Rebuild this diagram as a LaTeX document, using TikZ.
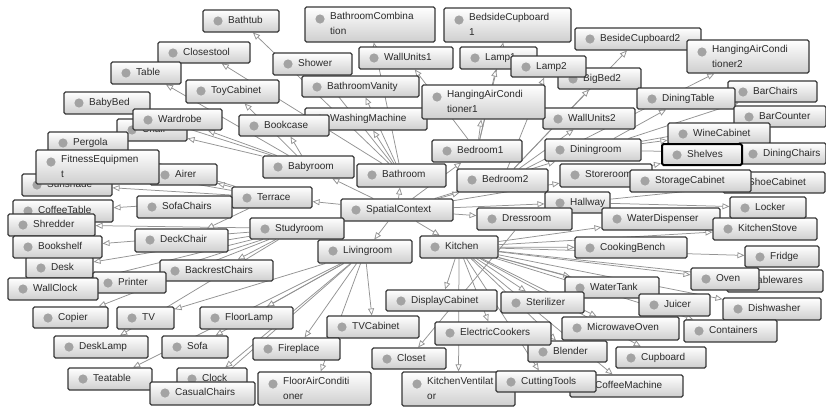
\documentclass[tikz,border=0pt]{standalone}
\usepackage{fontspec}
\setmainfont{Liberation Sans}
\usetikzlibrary{arrows.meta}
\definecolor{bord}{HTML}{383838}
\definecolor{dotc}{HTML}{A3A3A3}
\definecolor{txt}{HTML}{2A2A2A}
\definecolor{edgec}{HTML}{939393}
\pgfdeclarelayer{bg}
\pgfsetlayers{bg,main}
\tikzset{
 objbox/.style={draw=bord, line width=1.1pt, rounded corners=1.5pt, top color=white, bottom color=black!19, inner sep=0pt},
 selbox/.style={draw=black, line width=2pt},
 lbl/.style={anchor=west, inner sep=0pt, text=txt, font=\fontsize{10}{15}\selectfont, text height=7pt, text depth=2pt},
 lbltwo/.style={anchor=north west, inner sep=0pt, text=txt, align=left, font=\fontsize{10}{15}\selectfont},
 conn/.style={draw=edgec, line width=0.75pt, -{Triangle[open, length=7pt, width=6pt, fill=white]}},
}
\newcommand\obj[7][]{%
  \node[objbox,#1,minimum width={#5-#3},minimum height={#6-#4}] (#2) at ({(#3+#5)/2},{(#4+#6)/2}) {};
  \fill[dotc] ({#3+15},{#4+11}) circle[radius=4.6pt];
  \node[lbl] at ({#3+25},{#4+11}) {#7};
}
\newcommand\objII[7][]{%
  \node[objbox,#1,minimum width={#5-#3},minimum height={#6-#4}] (#2) at ({(#3+#5)/2},{(#4+#6)/2}) {};
  \fill[dotc] ({#3+15},{#4+12}) circle[radius=4.6pt];
  \node[lbltwo] at ({#3+25},{#4+5}) {#7};
}
\begin{document}
\begin{tikzpicture}[x=1pt,y=-1pt]
\useasboundingbox (0,0) rectangle (826,407);
\obj{Bathtub}{203}{10}{279}{32}{Bathtub}
\objII{BathroomCombination}{305}{7}{435}{42}{BathroomCombina\\tion}
\objII{BedsideCupboard1}{444}{8}{571}{42}{BedsideCupboard\\1}
\obj{Closestool}{158}{42}{250}{63}{Closestool}
\obj{Table}{111}{62}{181}{84}{Table}
\obj{ToyCabinet}{186}{80}{279}{103}{ToyCabinet}
\obj{Shower}{273}{53}{352}{75}{Shower}
\obj{WallUnits1}{359}{47}{453}{69}{WallUnits1}
\obj{BathroomVanity}{302}{76}{419}{97}{BathroomVanity}
\obj{BesideCupboard2}{575}{28}{701}{50}{BesideCupboard2}
\objII{HangingAirConditioner2}{687}{40}{809}{73}{HangingAirCondi\\tioner2}
\obj{BigBed2}{558}{68}{641}{89}{BigBed2}
\obj{Lamp1}{460}{47}{537}{69}{Lamp1}
\obj{Lamp2}{511}{56}{586}{77}{Lamp2}
\obj{BarChairs}{728}{81}{817}{102}{BarChairs}
\obj{DiningTable}{637}{88}{735}{109}{DiningTable}
\obj{BarCounter}{734}{106}{826}{127}{BarCounter}
\obj{WallUnits2}{543}{108}{635}{129}{WallUnits2}
\obj{WashingMachine}{305}{108}{427}{130}{WashingMachine}
\objII{HangingAirConditioner1}{422}{85}{545}{119}{HangingAirCondi\\tioner1}
\obj{BabyBed}{64}{92}{150}{114}{BabyBed}
\obj{Chair}{117}{119}{187}{141}{Chair}
\obj{Wardrobe}{133}{109}{222}{130}{Wardrobe}
\obj{Bookcase}{239}{115}{329}{136}{Bookcase}
\obj{Pergola}{48}{132}{128}{152}{Pergola}
\obj{Sunshade}{22}{174}{112}{196}{Sunshade}
\obj{Airer}{150}{164}{217}{185}{Airer}
\objII{FitnessEquipment}{36}{150}{159}{184}{FitnessEquipmen\\t}
\obj{Babyroom}{263}{156}{354}{178}{Babyroom}
\obj{Bathroom}{357}{164}{446}{187}{Bathroom}
\obj{Bedroom1}{432}{140}{522}{162}{Bedroom1}
\obj{Bedroom2}{457}{169}{548}{192}{Bedroom2}
\obj{Diningroom}{545}{139}{641}{161}{Diningroom}
\obj{WineCabinet}{668}{123}{770}{144}{WineCabinet}
\obj{DiningChairs}{738}{143}{826}{164}{DiningChairs}
\obj[selbox]{Shelves}{662}{144}{742}{165}{Shelves}
\obj{Storeroom}{560}{164}{652}{187}{Storeroom}
\obj{ShoeCabinet}{723}{172}{825}{193}{ShoeCabinet}
\obj{StorageCabinet}{630}{170}{751}{192}{StorageCabinet}
\obj{Terrace}{232}{187}{312}{208}{Terrace}
\obj{SofaChairs}{137}{196}{232}{218}{SofaChairs}
\obj{CoffeeTable}{13}{200}{113}{222}{CoffeeTable}
\obj{Shredder}{8}{214}{95}{236}{Shredder}
\obj{Desk}{26}{257}{93}{278}{Desk}
\obj{Bookshelf}{13}{236}{102}{258}{Bookshelf}
\obj{SpatialContext}{341}{199}{453}{221}{SpatialContext}
\obj{Hallway}{545}{192}{610}{213}{Hallway}
\obj{Dressroom}{477}{208}{572}{230}{Dressroom}
\obj{WaterDispenser}{602}{208}{720}{230}{WaterDispenser}
\obj{KitchenStove}{713}{218}{817}{240}{KitchenStove}
\obj{Locker}{730}{197}{806}{218}{Locker}
\obj{DeckChair}{135}{229}{228}{252}{DeckChair}
\obj{Studyroom}{250}{218}{344}{239}{Studyroom}
\obj{Livingroom}{318}{240}{412}{263}{Livingroom}
\obj{Kitchen}{420}{236}{498}{258}{Kitchen}
\obj{CookingBench}{575}{237}{687}{258}{CookingBench}
\obj{Fridge}{745}{246}{819}{267}{Fridge}
\obj{BackrestChairs}{160}{260}{273}{281}{BackrestChairs}
\obj{Printer}{93}{272}{166}{293}{Printer}
\obj{WallClock}{8}{278}{98}{300}{WallClock}
\obj{Tablewares}{727}{270}{823}{292}{Tablewares}
\obj{Oven}{691}{268}{759}{290}{Oven}
\obj{WaterTank}{565}{277}{659}{298}{WaterTank}
\obj{Juicer}{639}{294}{710}{316}{Juicer}
\obj{Sterilizer}{501}{292}{584}{313}{Sterilizer}
\obj{DisplayCabinet}{386}{290}{497}{311}{DisplayCabinet}
\obj{Dishwasher}{723}{298}{821}{320}{Dishwasher}
\obj{Copier}{33}{307}{108}{328}{Copier}
\obj{TV}{117}{307}{174}{329}{TV}
\obj{FloorLamp}{200}{307}{293}{329}{FloorLamp}
\obj{TVCabinet}{327}{316}{419}{338}{TVCabinet}
\obj{MicrowaveOven}{562}{317}{679}{340}{MicrowaveOven}
\obj{Containers}{684}{320}{777}{342}{Containers}
\obj{Blender}{528}{341}{607}{362}{Blender}
\obj{ElectricCookers}{435}{322}{551}{345}{ElectricCookers}
\obj{DeskLamp}{54}{336}{148}{358}{DeskLamp}
\obj{Sofa}{162}{336}{228}{358}{Sofa}
\obj{Fireplace}{253}{338}{340}{360}{Fireplace}
\obj{Closet}{372}{348}{446}{369}{Closet}
\obj{Cupboard}{616}{347}{706}{368}{Cupboard}
\obj{Teatable}{68}{368}{152}{390}{Teatable}
\obj{Clock}{177}{368}{247}{389}{Clock}
\obj{CasualChairs}{150}{382}{255}{405}{CasualChairs}
\objII{FloorAirConditioner}{258}{372}{371}{405}{FloorAirConditi\\oner}
\objII{KitchenVentilator}{402}{372}{515}{406}{KitchenVentilat\\or}
\obj{CoffeeMachine}{570}{375}{683}{397}{CoffeeMachine}
\obj{CuttingTools}{496}{371}{596}{392}{CuttingTools}
\begin{pgfonlayer}{bg}
\fill[white] (0,0) rectangle (826,407);
\foreach \c in {Babyroom,Bathroom,Bedroom1,Bedroom2,Diningroom,Storeroom,Hallway,Dressroom,Kitchen,Livingroom,Studyroom,Terrace}
  {\draw[conn] (SpatialContext) -- (\c);}
\foreach \c in {Table,ToyCabinet,BabyBed,Wardrobe,Chair,Bookcase}
  {\draw[conn] (Babyroom) -- (\c);}
\foreach \c in {Bathtub,Closestool,Shower,BathroomCombination,BathroomVanity,WashingMachine}
  {\draw[conn] (Bathroom) -- (\c);}
\foreach \c in {BedsideCupboard1,Lamp1,HangingAirConditioner1,WallUnits1}
  {\draw[conn] (Bedroom1) -- (\c);}
\foreach \c in {BesideCupboard2,Lamp2,BigBed2,HangingAirConditioner2,WallUnits2}
  {\draw[conn] (Bedroom2) -- (\c);}
\foreach \c in {DiningTable,BarChairs,BarCounter,WineCabinet,DiningChairs}
  {\draw[conn] (Diningroom) -- (\c);}
\foreach \c in {StorageCabinet,Shelves}
  {\draw[conn] (Storeroom) -- (\c);}
\foreach \c in {ShoeCabinet,Locker}
  {\draw[conn] (Hallway) -- (\c);}
\draw[conn] (Dressroom) -- (Closet);
\foreach \c in {WaterDispenser,KitchenStove,CookingBench,Fridge,Tablewares,Oven,WaterTank,Juicer,Dishwasher,Sterilizer,MicrowaveOven,Containers,Blender,Cupboard,CuttingTools,CoffeeMachine,ElectricCookers,DisplayCabinet,KitchenVentilator}
  {\draw[conn] (Kitchen) -- (\c);}
\foreach \c in {TV,Sofa,FloorLamp,Clock,CasualChairs,Teatable,TVCabinet,Fireplace,FloorAirConditioner}
  {\draw[conn] (Livingroom) -- (\c);}
\foreach \c in {Desk,DeskLamp,Printer,Copier,WallClock,Bookshelf,Shredder,BackrestChairs}
  {\draw[conn] (Studyroom) -- (\c);}
\foreach \c in {Pergola,Sunshade,Airer,FitnessEquipment,SofaChairs,CoffeeTable,DeckChair}
  {\draw[conn] (Terrace) -- (\c);}
\end{pgfonlayer}
\end{tikzpicture}
\end{document}
